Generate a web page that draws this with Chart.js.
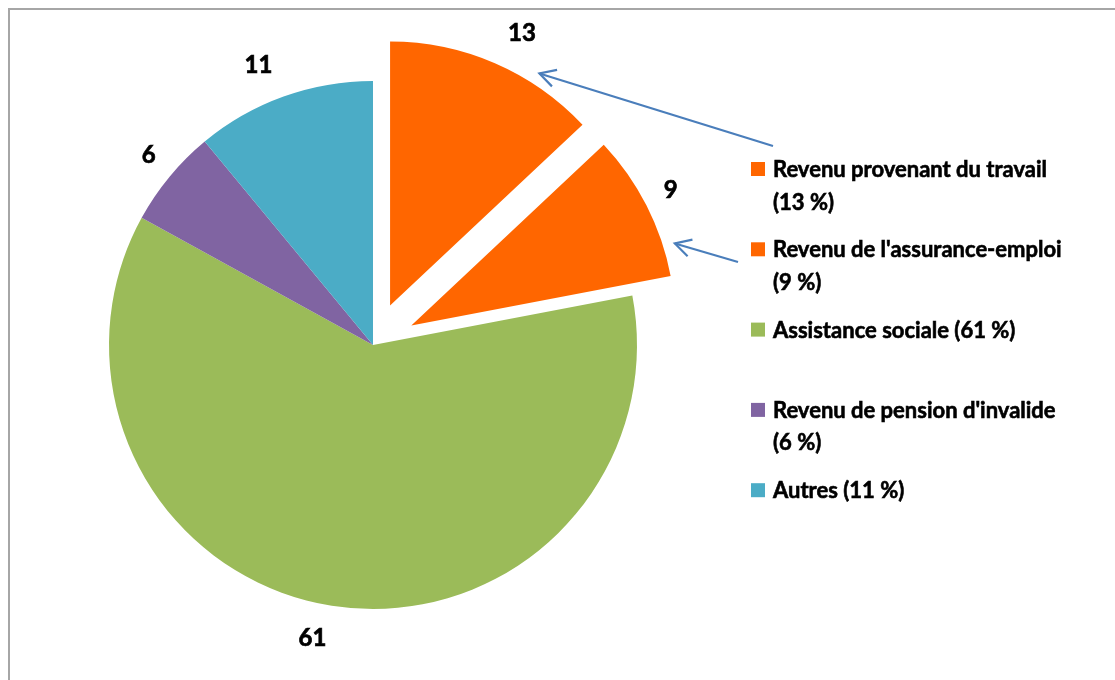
<!DOCTYPE html>
<html lang="fr">
<head>
<meta charset="utf-8">
<title>Sources de revenu</title>
<script src="https://cdn.jsdelivr.net/npm/chart.js@4/dist/chart.umd.min.js"></script>
<style>
    html, body { margin: 0; padding: 0; background: #ffffff; }
    canvas { display: block; }
</style>
</head>
<body>
<canvas id="pie-chart" width="1115" height="680"></canvas>
<script>
// Chart data
const categories = [
    'Revenu provenant du travail',
    "Revenu de l'assurance-emploi",
    'Assistance sociale',
    "Revenu de pension d'invalide",
    'Autres'
];
const values = [13, 9, 61, 6, 11];
const sliceColors = ['#ff6600', '#ff6600', '#9bbb59', '#8064a2', '#4bacc6'];

const FONT = 'Lato, "Open Sans", sans-serif';

// Pulled-out slices (pixels along the slice bisector)
const explode = [43, 43, 0, 0, 0];

function shiftFor(arc, i) {
    const mid = (arc.startAngle + arc.endAngle) / 2;
    const d = explode[i] || 0;
    return { dx: Math.cos(mid) * d, dy: Math.sin(mid) * d };
}

// Bold text with a thin outline so it reads as heavy as the original
function heavyText(ctx, text, x, y) {
    ctx.fillText(text, x, y);
    ctx.strokeText(text, x, y);
}

/**
 * Draw the arcs ourselves so that exploded slices keep their radius
 */
const explodePlugin = {
    id: 'explode',
    beforeDatasetDraw(chart, args) {
        const ctx = chart.ctx;
        args.meta.data.forEach((arc, i) => {
            const s = shiftFor(arc, i);
            ctx.save();
            ctx.translate(s.dx, s.dy);
            arc.draw(ctx);
            ctx.restore();
        });
        return false;
    }
};

/**
 * Frame, value labels, legend and arrows
 */
const decorPlugin = {
    id: 'decor',
    beforeDraw(chart) {
        const ctx = chart.ctx;
        ctx.save();
        ctx.strokeStyle = '#a6a6a6';
        ctx.lineWidth = 2;
        ctx.beginPath();
        ctx.moveTo(9, 680);
        ctx.lineTo(9, 9);
        ctx.lineTo(1115, 9);
        ctx.stroke();
        ctx.restore();
    },
    afterDatasetsDraw(chart) {
        const ctx = chart.ctx;
        const arcs = chart.getDatasetMeta(0).data;

        // value labels outside the pie
        ctx.save();
        ctx.fillStyle = '#000000';
        ctx.strokeStyle = '#000000';
        ctx.lineWidth = 0.7;
        ctx.font = 'bold 24px ' + FONT;
        ctx.textAlign = 'center';
        ctx.textBaseline = 'middle';
        arcs.forEach((arc, i) => {
            const mid = (arc.startAngle + arc.endAngle) / 2;
            const r = arc.outerRadius + (explode[i] || 0) + 33;
            const cx = Math.cos(mid);
            // push labels a little sideways, away from the vertical axis
            const side = Math.abs(Math.sin(mid)) > 0.9 ? Math.sign(cx) * 14 : -cx * 6;
            heavyText(ctx, String(values[i]), arc.x + cx * r + side, arc.y + Math.sin(mid) * r);
        });
        ctx.restore();

        // legend
        const legendX = 751;
        const firstBaseline = 177;
        const itemStep = 80.3;
        const lineStep = 32.5;
        ctx.save();
        ctx.font = 'bold 22px ' + FONT;
        ctx.textBaseline = 'alphabetic';
        ctx.textAlign = 'left';
        ctx.lineWidth = 0.6;
        ctx.strokeStyle = '#000000';
        categories.forEach((cat, i) => {
            const base = firstBaseline + i * itemStep;
            ctx.fillStyle = sliceColors[i];
            ctx.fillRect(legendX, base - 15, 14, 14);
            ctx.fillStyle = '#000000';
            const words = (cat + ' (' + values[i] + '\u00a0%)').split(' ');
            const lines = [];
            let line = '';
            words.forEach(w => {
                const test = line ? line + ' ' + w : w;
                if (line && ctx.measureText(test).width > 320) {
                    lines.push(line);
                    line = w;
                } else {
                    line = test;
                }
            });
            lines.push(line);
            lines.forEach((l, j) => heavyText(ctx, l, legendX + 22, base + j * lineStep));
        });
        ctx.restore();

        // arrows from the legend to the two income slices
        const arrows = [
            { idx: 0, frac: 0.70, tail: [773, 146] },
            { idx: 1, frac: 0.80, tail: [738, 262] }
        ];
        ctx.save();
        ctx.strokeStyle = '#4a7ebb';
        ctx.lineWidth = 2.2;
        arrows.forEach(a => {
            const arc = arcs[a.idx];
            const s = shiftFor(arc, a.idx);
            const ang = arc.startAngle + a.frac * (arc.endAngle - arc.startAngle);
            const r = arc.outerRadius + 12;
            const tx = arc.x + s.dx + Math.cos(ang) * r;
            const ty = arc.y + s.dy + Math.sin(ang) * r;
            const dir = Math.atan2(a.tail[1] - ty, a.tail[0] - tx);
            ctx.beginPath();
            ctx.moveTo(a.tail[0], a.tail[1]);
            ctx.lineTo(tx, ty);
            ctx.stroke();
            ctx.beginPath();
            ctx.moveTo(tx + Math.cos(dir - 0.5) * 18, ty + Math.sin(dir - 0.5) * 18);
            ctx.lineTo(tx, ty);
            ctx.lineTo(tx + Math.cos(dir + 0.5) * 18, ty + Math.sin(dir + 0.5) * 18);
            ctx.stroke();
        });
        ctx.restore();
    }
};

function createPieChart() {
    const ctx = document.getElementById('pie-chart');
    new Chart(ctx, {
        type: 'pie',
        data: {
            labels: categories,
            datasets: [{
                data: values,
                backgroundColor: sliceColors,
                borderWidth: 0,
                hoverOffset: 0
            }]
        },
        options: {
            responsive: false,
            animation: false,
            events: [],
            layout: {
                padding: { left: 109, top: 81, right: 478, bottom: 71 }
            },
            plugins: {
                legend: { display: false },
                tooltip: { enabled: false }
            }
        },
        plugins: [explodePlugin, decorPlugin]
    });
}

document.addEventListener('DOMContentLoaded', createPieChart);
</script>
</body>
</html>
